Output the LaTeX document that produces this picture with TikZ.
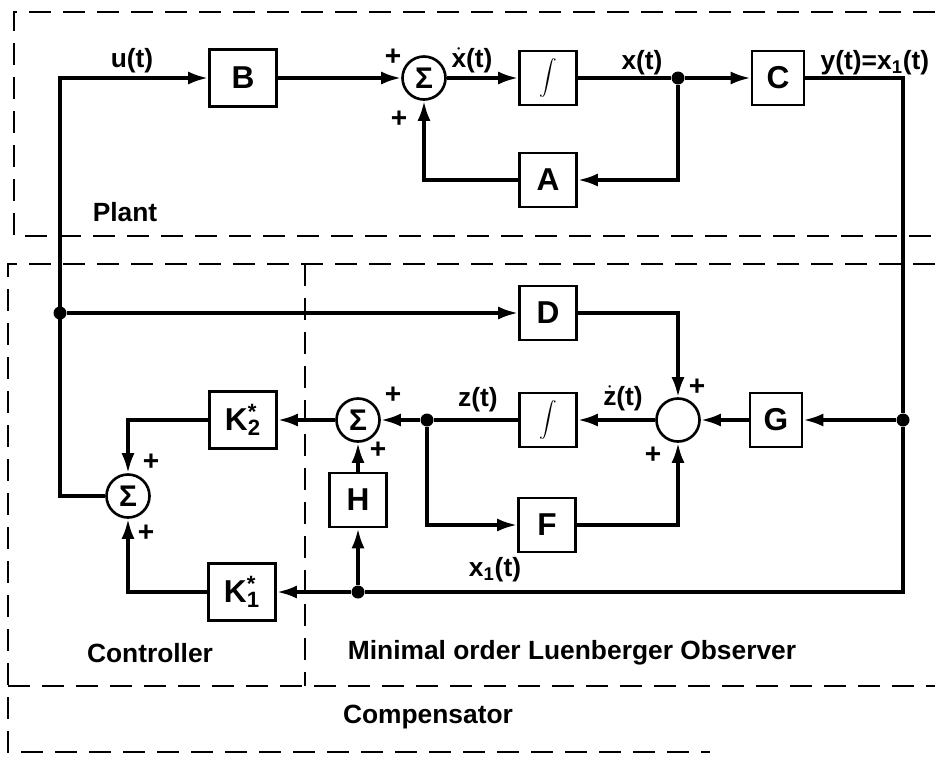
\documentclass[tikz,border=0pt]{standalone}
\usepackage{fontspec}
\setmainfont{Liberation Sans}
\usetikzlibrary{arrows.meta}
\newcommand\gainstar[1]{K\rlap{\textsuperscript{*}}\textsubscript{#1}}
\newcommand\integr{{\fontsize{11}{11}\selectfont$\displaystyle\int$}}
\tikzset{
  bd text/.style={font=\fontsize{15}{18}\selectfont\bfseries},
  bd box/.style={draw, line width=1.5pt, minimum width=11.4mm, minimum height=10.8mm,
    inner sep=0pt, font=\fontsize{18}{20}\selectfont\bfseries},
  bd wide/.style={bd box, minimum width=13.4mm, minimum height=11.4mm},
  bd sum/.style={draw, circle, line width=1.5pt, minimum size=8.6mm, inner sep=0pt,
    font=\fontsize{17}{17}\selectfont\bfseries},
  bd dot/.style={circle, fill, minimum size=2.6mm, inner sep=0pt},
  bd line/.style={line width=2pt},
  bd arrow/.style={bd line, -{Latex[length=4mm,width=2.6mm]}},
  bd bound/.style={line width=1.4pt, dash pattern=on 4.4mm off 2.4mm},
  bd plus/.style={font=\fontsize{16}{16}\selectfont\bfseries}
}

\begin{document}
\begin{tikzpicture}[bd text, x=0.2mm, y=-0.2mm]
  \useasboundingbox (0,0) rectangle (935,757);
  % boundaries
  \draw[bd bound] (935,12) -- (14,12) -- (14,236) -- (935,236);
  \draw[bd bound] (935,264) -- (8,264) -- (8,752) -- (710,752);
  \draw[bd bound] (8,686) -- (935,686);
  \draw[bd bound] (305,264) -- (305,686);
  % plant
  \node[bd wide] (B) at (243,78) {B};
  \node[bd sum] (s1) at (424,78) {Σ};
  \node[bd box] (I1) at (548,78) {\integr};
  \node[bd dot] (xdot) at (678,78) {};
  \node[bd box, minimum width=10.4mm] (C) at (778,78) {C};
  \node[bd box] (A) at (548,180) {A};
  \coordinate (ucorner) at (60,78);
  \coordinate (ycorner) at (903,78);
  % compensator
  \node[bd dot] (ubr) at (60,313) {};
  \node[bd box] (D) at (548,313) {D};
  \node[bd sum] (so) at (678,420) {};
  \node[bd box, minimum width=10.4mm] (G) at (776,420) {G};
  \node[bd dot] (ydot) at (903,420) {};
  \node[bd box] (I2) at (548,420) {\integr};
  \node[bd dot] (zdot) at (427,420) {};
  \node[bd sum] (s2) at (358,420) {Σ};
  \node[bd box] (H) at (358,500) {H};
  \node[bd box] (F) at (547,525) {F};
  \node[bd dot] (hdot) at (358,592) {};
  \node[bd wide] (K2) at (243,420) {\gainstar{2}};
  \node[bd wide] (K1) at (242,592) {\gainstar{1}};
  \node[bd sum] (s3) at (128,496) {Σ};
  % plant connectors
  \draw[bd arrow] (s3.west) -| (ucorner) -- (B.west);
  \draw[bd arrow] (B) -- (s1);
  \draw[bd arrow] (s1) -- (I1);
  \draw[bd line] (I1) -- (xdot);
  \draw[bd arrow] (xdot) -- (C);
  \draw[bd arrow] (xdot) |- (A.east);
  \draw[bd arrow] (A.west) -| (s1.south);
  \draw[bd line] (C.east) -- (ycorner) -- (ydot);
  % compensator connectors
  \draw[bd arrow] (ubr) -- (D);
  \draw[bd arrow] (D.east) -| (so.north);
  \draw[bd arrow] (ydot) -- (G);
  \draw[bd arrow] (G) -- (so);
  \draw[bd arrow] (so) -- (I2);
  \draw[bd line] (I2) -- (zdot);
  \draw[bd arrow] (zdot) -- (s2);
  \draw[bd arrow] (zdot) |- (F.west);
  \draw[bd arrow] (F.east) -| (so.south);
  \draw[bd line] (ydot) |- (hdot);
  \draw[bd arrow] (hdot) -- (K1);
  \draw[bd arrow] (hdot) -- (H);
  \draw[bd arrow] (H) -- (s2);
  \draw[bd arrow] (s2) -- (K2);
  \draw[bd arrow] (K2.west) -| (s3.north);
  \draw[bd arrow] (K1.west) -| (s3.south);
  % signal labels
  \node (ulbl) at (132,61) {u(t)};
  \node (xdlbl) at (472,60) {$\dot{\mbox{x}}$(t)};
  \node (xlbl) at (642,63) {x(t)};
  \node (ylbl) at (875,63) {y(t)=x\textsubscript{1}(t)};
  \node (zlbl) at (478,400) {z(t)};
  \node (zdlbl) at (623,398) {$\dot{\mbox{z}}$(t)};
  \node (x1lbl) at (495,570) {x\textsubscript{1}(t)};
  % signs
  \node[bd plus] at (393,57) {+};
  \node[bd plus] at (399,119) {+};
  \node[bd plus] at (697,387) {+};
  \node[bd plus] at (653,455) {+};
  \node[bd plus] at (393,395) {+};
  \node[bd plus] at (378,450) {+};
  \node[bd plus] at (151,462) {+};
  \node[bd plus] at (146,533) {+};
  % region labels
  \node (plantlbl) at (125,212) {Plant};
  \node (ctrllbl) at (150,653) {Controller};
  \node (obslbl) at (572,653) {Minimal order Luenberger Observer};
  \node (complbl) at (428,717) {Compensator};
\end{tikzpicture}
\end{document}
